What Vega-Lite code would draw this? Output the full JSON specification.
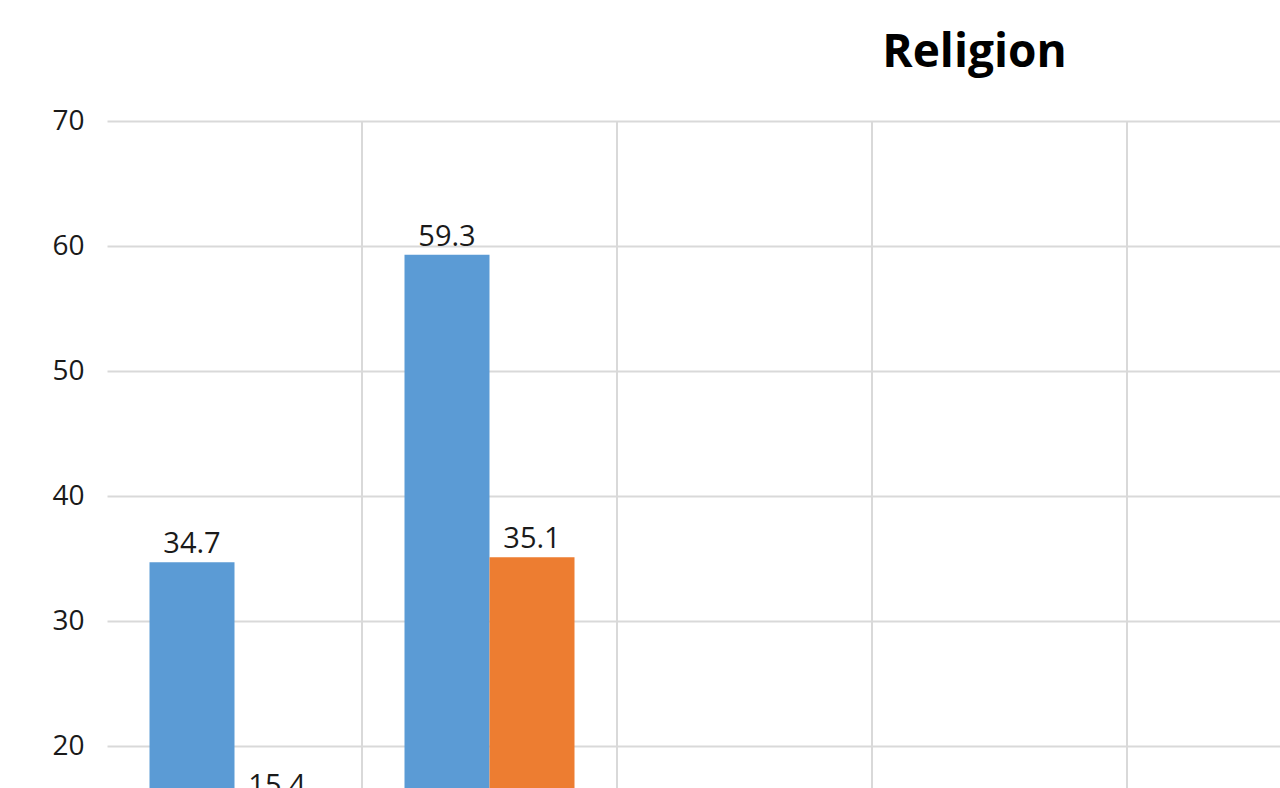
{
  "$schema": "https://vega.github.io/schema/vega-lite/v6.json",
  "autosize": {"type": "none"},
  "padding": {"left": 107, "top": 121, "right": 0, "bottom": 0},
  "width": 1173,
  "height": 667,
  "background": "white",
  "title": {
    "text": "Religion",
    "font": "Open Sans",
    "fontSize": 46,
    "fontWeight": "bold",
    "color": "#000000",
    "anchor": "middle",
    "dx": 281,
    "dy": 61,
    "baseline": "alphabetic",
    "offset": 55
  },
  "datasets": {
    "bars": [
      {"category": "Category 1", "series": "Series 1", "value": 34.7},
      {"category": "Category 1", "series": "Series 2", "value": 15.4},
      {"category": "Category 2", "series": "Series 1", "value": 59.3},
      {"category": "Category 2", "series": "Series 2", "value": 35.1}
    ],
    "dividers": [
      {"category": "Category 2"},
      {"category": "Category 3"},
      {"category": "Category 4"},
      {"category": "Category 5"}
    ]
  },
  "layer": [
    {
      "data": {"name": "dividers"},
      "mark": {"type": "rule", "color": "#d9d9d9", "strokeWidth": 2},
      "encoding": {
        "x": {
          "field": "category",
          "type": "nominal",
          "bandPosition": 0,
          "sort": null,
          "scale": {
            "domain": ["Category 1", "Category 2", "Category 3", "Category 4", "Category 5"],
            "range": [0, 1275],
            "paddingInner": 0,
            "paddingOuter": 0
          },
          "axis": null
        }
      }
    },
    {
      "data": {"name": "bars"},
      "encoding": {
        "x": {"field": "category", "type": "nominal", "sort": null},
        "xOffset": {
          "field": "series",
          "type": "nominal",
          "scale": {"domain": ["Series 1", "Series 2"], "paddingInner": 0, "paddingOuter": 0.5}
        },
        "y": {
          "field": "value",
          "type": "quantitative",
          "scale": {"domain": [0, 70], "range": [875, 0], "nice": false, "zero": true},
          "axis": {
            "title": null,
            "values": [0, 10, 20, 30, 40, 50, 60, 70],
            "ticks": false,
            "domain": false,
            "grid": true,
            "gridColor": "#d9d9d9",
            "gridWidth": 2,
            "labelFont": "Open Sans",
            "labelFontSize": 28,
            "labelColor": "#1a1a1a",
            "labelPadding": 23
          }
        },
        "color": {
          "field": "series",
          "type": "nominal",
          "scale": {"domain": ["Series 1", "Series 2"], "range": ["#5b9bd5", "#ed7d31"]},
          "legend": null
        }
      },
      "layer": [
        {"mark": {"type": "bar"}},
        {
          "mark": {
            "type": "text",
            "font": "Open Sans",
            "fontSize": 29,
            "baseline": "alphabetic",
            "dy": -9
          },
          "encoding": {
            "text": {"field": "value", "type": "quantitative", "format": ".1f"},
            "color": {"value": "#1a1a1a"}
          }
        }
      ]
    }
  ],
  "config": {
    "view": {"stroke": null}
  }
}
